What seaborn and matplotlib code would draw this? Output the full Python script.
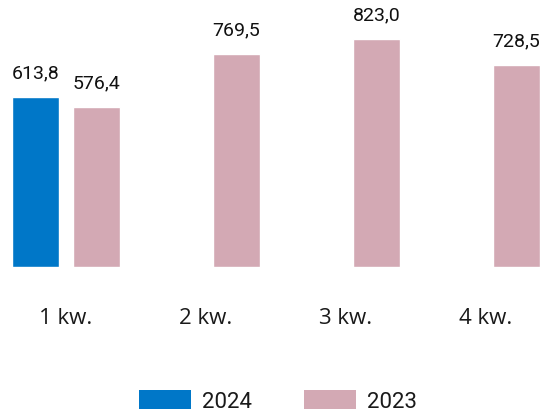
import matplotlib
matplotlib.use("Agg")
import matplotlib.pyplot as plt
import seaborn as sns
import pandas as pd
import numpy as np
from matplotlib.patches import Patch

categories = ["1 kw.", "2 kw.", "3 kw.", "4 kw."]
series_names = ["2024", "2023"]
values_2024 = [613.8, np.nan, np.nan, np.nan]
values_2023 = [576.4, 769.5, 823.0, 728.5]
colors = ["#0077c8", "#d3a9b4"]

df = pd.DataFrame({
    "kw": categories * 2,
    "rok": [series_names[0]] * 4 + [series_names[1]] * 4,
    "val": values_2024 + values_2023,
})
df = df.dropna()

sns.set_theme(style="white")
plt.rcParams["font.family"] = ["Open Sans", "DejaVu Sans"]

fig = plt.figure(figsize=(5.4, 4.14), dpi=100)
ax = fig.add_axes([0, 1 - 268 / 414, 1, 268 / 414])

sns.barplot(data=df, x="kw", y="val", hue="rok", hue_order=series_names,
            order=categories, palette=colors, width=0.871, gap=0.23,
            ax=ax, legend=False, saturation=1)

for cont in ax.containers:
    labels = [f"{v:.1f}".replace(".", ",") for v in cont.datavalues]
    ax.bar_label(cont, labels=labels, padding=11, fontsize=14,
                 family=["Roboto", "DejaVu Sans"], color="#111111")

ax.set_xlim(-66 / 140, 474 / 140)
ax.set_ylim(0, 966)
ax.set_xlabel("")
ax.set_ylabel("")
ax.set_yticks([])
ax.tick_params(axis="x", length=0, pad=29, labelsize=16, labelcolor="#1a1a1a")
for s in ax.spines.values():
    s.set_visible(False)

handles = [Patch(facecolor=c, edgecolor="none") for c in colors]
fig.legend(handles, series_names, loc="center",
           bbox_to_anchor=(278 / 540, 1 - 402 / 414), ncol=2, frameon=False,
           prop={"family": ["Roboto", "DejaVu Sans"], "size": 16},
           handlelength=2.34, handleheight=0.9, handletextpad=0.5,
           columnspacing=2.34, labelcolor="#1a1a1a")

fig.savefig("out.png", dpi=100)
